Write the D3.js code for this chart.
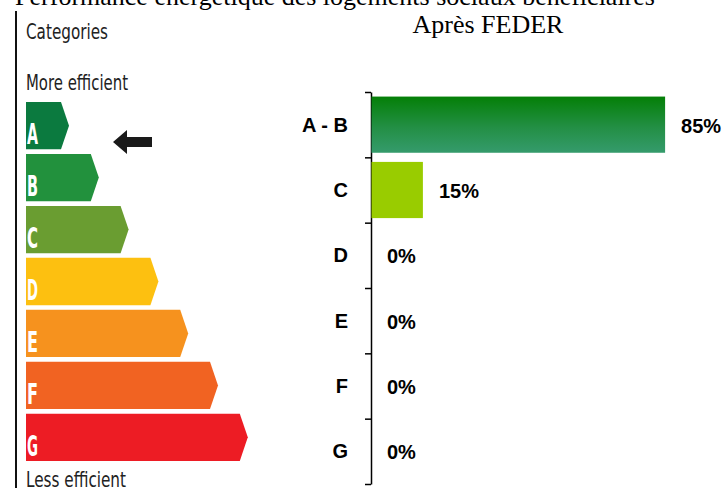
<!DOCTYPE html>
<html>
<head>
<meta charset="utf-8">
<script src="https://cdn.jsdelivr.net/npm/d3@7"></script>
<style>
  body { margin: 0; background: #fff; }
  svg { display: block; }
</style>
</head>
<body>
<div id="chart"></div>
<script>
// data
let categories = ["A - B", "C", "D", "E", "F", "G"];
let values = [85, 15, 0, 0, 0, 0];
let valueLabels = ["85%", "15%", "0%", "0%", "0%", "0%"];

// energy label on the left
let labelClasses = ["A", "B", "C", "D", "E", "F", "G"];
let labelColors = ["#0b7a3f", "#22913d", "#6a9d31", "#fdc010", "#f6921e", "#f16322", "#ed1c24"];

let title = "Performance énergétique des logements sociaux bénéficiaires";
let subtitle = "Après FEDER";

let width = 723,
    height = 488;

let svg = d3.select("#chart")
  .append("svg")
  .attr("width", width)
  .attr("height", height)
  .attr("viewBox", `0 0 ${width} ${height}`)
  .style("background-color", "white");

let defs = svg.append("defs");
let grad = defs.append("linearGradient")
  .attr("id", "gradAB")
  .attr("x1", 0).attr("y1", 0).attr("x2", 0).attr("y2", 1);
grad.append("stop").attr("offset", "0%").attr("stop-color", "#047f07");
grad.append("stop").attr("offset", "55%").attr("stop-color", "#238f45");
grad.append("stop").attr("offset", "100%").attr("stop-color", "#359b6c");

let barColors = ["url(#gradAB)", "#99cc00", "#999", "#999", "#999", "#999"];

// titles (main title is cut by the top edge, as in the source)
svg.append("text")
  .attr("x", 335)
  .attr("y", 5)
  .attr("text-anchor", "middle")
  .style("font-family", "'Liberation Serif', 'Times New Roman', serif")
  .style("font-size", "26px")
  .text(title);

svg.append("text")
  .attr("x", 488)
  .attr("y", 33)
  .attr("text-anchor", "middle")
  .style("font-family", "'Liberation Serif', 'Times New Roman', serif")
  .style("font-size", "26px")
  .text(subtitle);

// ---- left: energy label graphic ----
let legend = svg.append("g").attr("class", "energy-label");

legend.append("line")
  .attr("x1", 16).attr("x2", 16)
  .attr("y1", 11).attr("y2", height)
  .attr("stroke", "#111")
  .attr("stroke-width", 2);

let condensed = "'DejaVu Sans Condensed', 'DejaVu Sans', sans-serif";

let sideTexts = [
  { t: "Categories", y: 39, w: 82 },
  { t: "More efficient", y: 90, w: 102 },
  { t: "Less efficient", y: 487, w: 100 }
];
legend.selectAll("text.side")
  .data(sideTexts)
  .enter().append("text")
  .attr("class", "side")
  .attr("x", 26)
  .attr("y", d => d.y)
  .attr("textLength", d => d.w)
  .attr("lengthAdjust", "spacingAndGlyphs")
  .style("font-family", condensed)
  .style("font-size", "22px")
  .style("fill", "#222")
  .text(d => d.t);

let ly = d3.scaleBand()
  .domain(labelClasses)
  .range([102, 461])
  .paddingInner(0.09)
  .paddingOuter(0);

let left = 26,
    tip = 8;
let tipX = i => 69 + i * 29.8;

legend.selectAll("path.cls")
  .data(labelClasses)
  .enter().append("path")
  .attr("class", "cls")
  .attr("fill", (d, i) => labelColors[i])
  .attr("d", (d, i) => {
    let y0 = ly(d), h = ly.bandwidth(), xt = tipX(i);
    return `M${left},${y0}H${xt - tip}L${xt},${y0 + h / 2}L${xt - tip},${y0 + h}H${left}Z`;
  });

legend.selectAll("text.cls")
  .data(labelClasses)
  .enter().append("text")
  .attr("class", "cls")
  .attr("x", 27)
  .attr("y", d => ly(d) + ly.bandwidth() - 5)
  .attr("textLength", 11)
  .attr("lengthAdjust", "spacingAndGlyphs")
  .style("font-family", condensed)
  .style("font-weight", "bold")
  .style("font-size", "29px")
  .style("fill", "#fff")
  .text(d => d);

// pointer arrow next to class A
legend.append("path")
  .attr("d", "M113,142L127,130V137H152V147H127V154Z")
  .attr("fill", "#1a1a1a");

// ---- right: bar chart ----
let x = d3.scaleLinear()
  .domain([0, 100])
  .range([371, 717]);

let y = d3.scaleBand()
  .domain(categories)
  .range([92, 484])
  .paddingInner(0.14)
  .paddingOuter(0.07);

// axis with ticks at band boundaries
let yEdges = d3.scaleLinear()
  .domain([0, categories.length])
  .range([92, 484]);

svg.append("g")
  .attr("transform", `translate(${x(0)},0)`)
  .call(d3.axisLeft(yEdges)
    .tickValues(d3.range(categories.length + 1))
    .tickFormat("")
    .tickSize(6)
    .tickSizeOuter(0))
  .call(g => g.selectAll("path, line").attr("stroke", "#000").attr("stroke-width", 1.5));

svg.selectAll("rect.bar")
  .data(values)
  .enter().append("rect")
  .attr("class", "bar")
  .attr("x", x(0) + 0.5)
  .attr("y", (d, i) => y(categories[i]))
  .attr("width", d => Math.max(0, x(d) - x(0) - 0.5))
  .attr("height", y.bandwidth())
  .attr("fill", (d, i) => barColors[i]);

svg.selectAll("text.cat")
  .data(categories)
  .enter().append("text")
  .attr("class", "cat")
  .attr("x", 348)
  .attr("y", d => y(d) + y.bandwidth() / 2 + 7)
  .attr("text-anchor", "end")
  .style("font-family", "'Liberation Sans', Arial, sans-serif")
  .style("font-weight", "bold")
  .style("font-size", "20px")
  .text(d => d);

svg.selectAll("text.val")
  .data(values)
  .enter().append("text")
  .attr("class", "val")
  .attr("x", d => x(d) + 16)
  .attr("y", (d, i) => y(categories[i]) + y.bandwidth() / 2 + 8)
  .style("font-family", "'Liberation Sans', Arial, sans-serif")
  .style("font-weight", "bold")
  .style("font-size", "20px")
  .text((d, i) => valueLabels[i]);
</script>
</body>
</html>
